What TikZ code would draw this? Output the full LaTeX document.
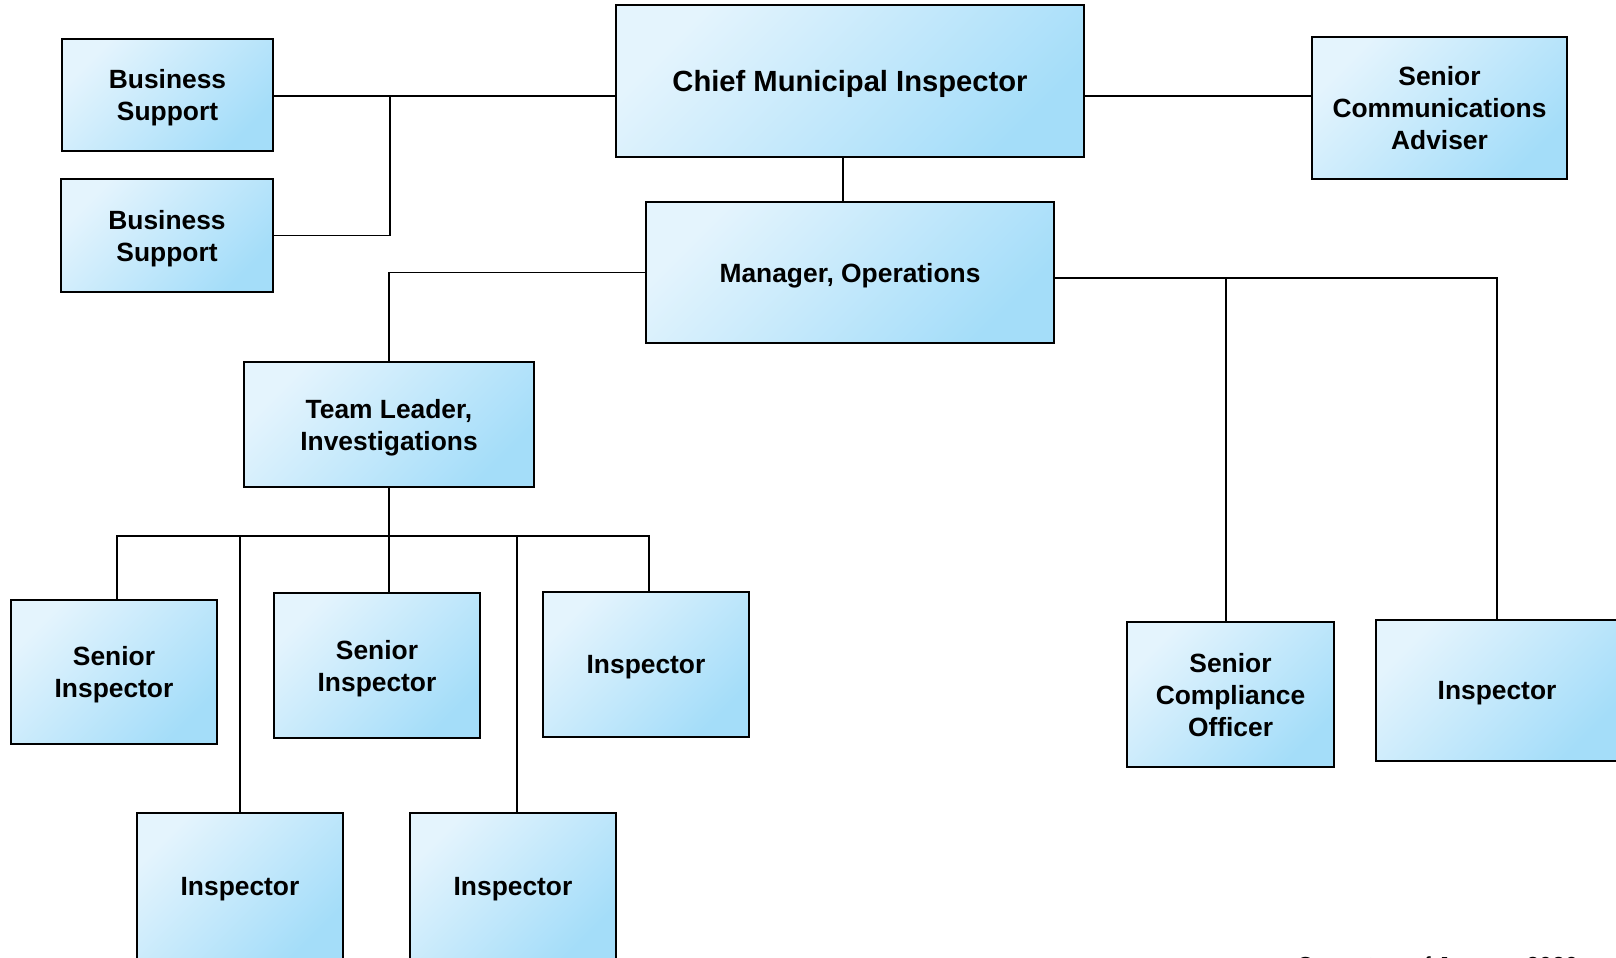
\documentclass[tikz,border=0pt]{standalone}
\usepackage{fontspec}
\setmainfont{Liberation Sans}
\definecolor{boxlight}{HTML}{E4F4FD}
\definecolor{boxdark}{HTML}{A4DDF9}

\begin{document}
\begin{tikzpicture}[x=0.01cm,y=-0.01cm,
  orgbox/.style={draw, line width=0.45pt, inner sep=0pt, align=center,
    top color=boxlight, bottom color=boxdark, shading angle=45,
    text depth=-0.025cm,
    font=\fontsize{7.5}{9.1}\selectfont\bfseries},
  link/.style={line width=0.35pt}]
\useasboundingbox (0,0) rectangle (1616,957);

% top row
\node[orgbox, minimum width=4.68cm, minimum height=1.52cm,
  font=\fontsize{8.3}{10}\selectfont\bfseries] (chief) at (850,81) {Chief Municipal Inspector};
\node[orgbox, minimum width=2.11cm, minimum height=1.12cm] (bsa) at (167.5,95) {Business\\Support};
\node[orgbox, minimum width=2.12cm, minimum height=1.13cm] (bsb) at (167,235.5) {Business\\Support};
\node[orgbox, minimum width=2.55cm, minimum height=1.42cm] (comms) at (1439.5,108) {Senior\\Communications\\Adviser};

% operations
\node[orgbox, minimum width=4.08cm, minimum height=1.41cm] (manager) at (850,272.5) {Manager, Operations};
\node[orgbox, minimum width=2.90cm, minimum height=1.25cm] (lead) at (389,424.5) {Team Leader,\\Investigations};

% investigations team
\node[orgbox, minimum width=2.06cm, minimum height=1.44cm] (seniora) at (114,672) {Senior\\Inspector};
\node[orgbox, minimum width=2.06cm, minimum height=1.45cm] (seniorb) at (377,665.5) {Senior\\Inspector};
\node[orgbox, minimum width=2.06cm, minimum height=1.45cm] (inspa) at (646,664.5) {Inspector};
\node[orgbox, minimum width=2.06cm, minimum height=1.46cm] (inspb) at (240,886) {Inspector};
\node[orgbox, minimum width=2.06cm, minimum height=1.46cm] (inspc) at (513,886) {Inspector};

% compliance
\node[orgbox, minimum width=2.07cm, minimum height=1.45cm] (compliance) at (1230.5,694.5) {Senior\\Compliance\\Officer};
\node[orgbox, minimum width=2.42cm, minimum height=1.41cm] (inspd) at (1497,690.5) {Inspector};

\node[anchor=base west, inner sep=0pt, font=\fontsize{6.6}{8}\selectfont] (stamp) at (1296,973) {Current as of January 2020};

% connectors
\coordinate (jtop) at (390,96);
\coordinate (jops) at (1497,278);
\coordinate (jteam) at (389,536);

\draw[link] (bsa.east |- jtop) -- (jtop) -- (jtop -| chief.west);
\draw[link] (bsb.east) -| (jtop);
\draw[link] (jtop -| chief.east) -- (jtop -| comms.west);
\draw[link] ([xshift=-0.07cm]chief.south) -- ([xshift=-0.07cm]manager.north);
\draw[link] (manager.west) -| (lead.north);
\draw[link] (manager.east |- jops) -- (jops) -- (inspd.north);
\draw[link] ([xshift=-0.045cm]compliance.north) -- ([xshift=-0.045cm]compliance.north |- jops);
\draw[link] (lead.south) -- (lead.south |- seniorb.north);
\draw[link] ([xshift=0.03cm]seniora.north) |- ([xshift=0.03cm]inspa.north |- jteam) -- ([xshift=0.03cm]inspa.north);
\draw[link] (inspb.north) -- (inspb.north |- jteam);
\draw[link] ([xshift=0.04cm]inspc.north) -- ([xshift=0.04cm]inspc.north |- jteam);

\end{tikzpicture}
\end{document}
